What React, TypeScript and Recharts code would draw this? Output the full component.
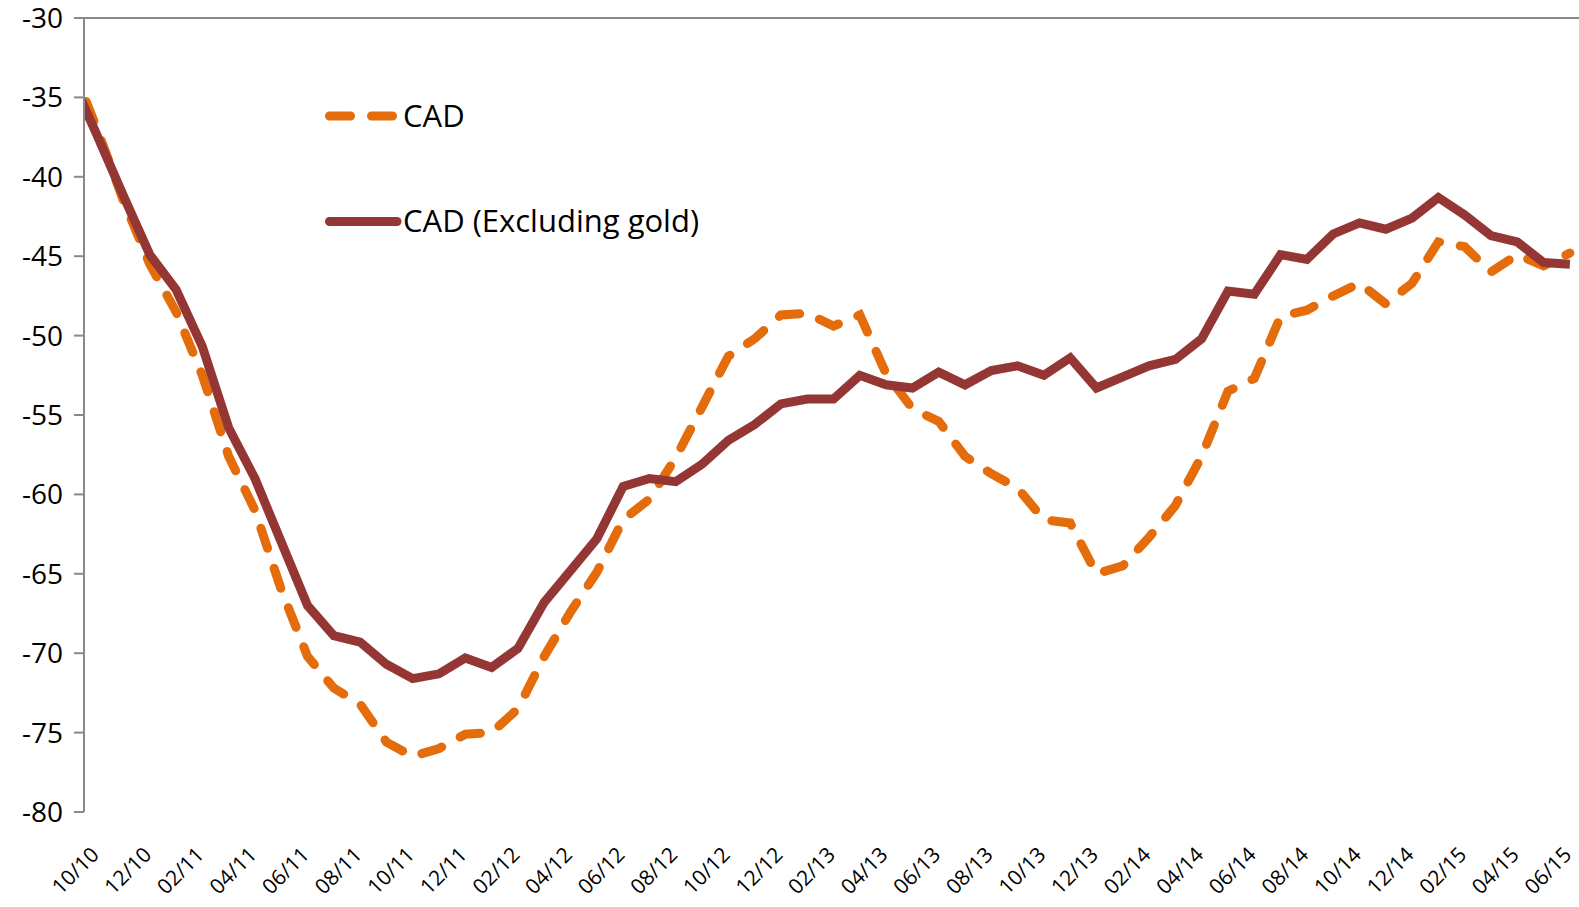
import React from 'react';
import { LineChart, Line, XAxis, YAxis, Legend } from 'recharts';

// month labels; 09/10 sits just left of the axis and gets clipped, like the source chart
const months = [
  '09/10', '10/10', '11/10', '12/10',
  '01/11', '02/11', '03/11', '04/11', '05/11', '06/11', '07/11', '08/11', '09/11', '10/11', '11/11', '12/11',
  '01/12', '02/12', '03/12', '04/12', '05/12', '06/12', '07/12', '08/12', '09/12', '10/12', '11/12', '12/12',
  '01/13', '02/13', '03/13', '04/13', '05/13', '06/13', '07/13', '08/13', '09/13', '10/13', '11/13', '12/13',
  '01/14', '02/14', '03/14', '04/14', '05/14', '06/14', '07/14', '08/14', '09/14', '10/14', '11/14', '12/14',
  '01/15', '02/15', '03/15', '04/15', '05/15', '06/15',
];

const cadValues = [
  -32.8, -37.0, -41.5, -45.5,
  -48.5, -52.5, -57.6, -61.0, -66.0, -70.2, -72.2, -73.2, -75.6, -76.5, -76.0, -75.1,
  -75.0, -73.5, -70.2, -67.4, -64.9, -61.6, -60.3, -57.7, -54.5, -51.3, -50.2, -48.7,
  -48.6, -49.4, -48.7, -52.4, -54.6, -55.4, -57.6, -58.7, -59.6, -61.6, -61.8, -65.0,
  -64.5, -62.7, -60.7, -57.6, -53.5, -52.7, -48.8, -48.4, -47.5, -46.7, -48.0, -46.7,
  -44.1, -44.4, -46.0, -44.9, -45.6, -44.8,
];

const exGoldValues = [
  -33.7, -37.4, -41.2, -44.9,
  -47.1, -50.7, -55.8, -59.0, -63.0, -67.0, -68.9, -69.3, -70.7, -71.6, -71.3, -70.3,
  -70.9, -69.7, -66.8, -64.8, -62.8, -59.5, -59.0, -59.2, -58.1, -56.6, -55.6, -54.3,
  -54.0, -54.0, -52.5, -53.1, -53.3, -52.3, -53.1, -52.2, -51.9, -52.5, -51.4, -53.3,
  -52.6, -51.9, -51.5, -50.2, -47.2, -47.4, -44.9, -45.2, -43.6, -42.9, -43.3, -42.6,
  -41.3, -42.4, -43.7, -44.1, -45.4, -45.5,
];

const yTicks = [-80, -75, -70, -65, -60, -55, -50, -45, -40, -35, -30];

const seriesNames = ['CAD', 'CAD (Excluding gold)'];

const ORANGE = '#E46C0A';
const DARK_RED = '#943634';
const AXIS_GREY = '#898989';
const FONT = '"Open Sans", sans-serif';

// each month sits in the middle of its slot (slot k spans k..k+1)
const data = months.map((m, i) => ({
  month: m,
  pos: i - 0.5,
  cad: cadValues[i],
  exGold: exGoldValues[i],
}));

const labelTicks = data.filter((_, i) => i % 2 === 1).map((d) => d.pos);
const boundaryTicks = labelTicks.map((p) => p - 0.5);

const MonthTick = (props: any) => {
  const { x, y, payload } = props;
  const label = months[Math.round(payload.value + 0.5)];
  return (
    <g transform={`translate(${x + 3},${y + 44})`}>
      <text
        textAnchor="end"
        transform="rotate(-45)"
        fill="#000"
        fontSize={21}
        fontFamily={FONT}
      >
        {label}
      </text>
    </g>
  );
};

const renderLegend = () => (
  <svg width={420} height={160} style={{ overflow: 'visible' }}>
    <line
      x1={9.5} y1={26} x2={73.5} y2={26}
      stroke={ORANGE} strokeWidth={9} strokeDasharray="21 21" strokeLinecap="round"
    />
    <text x={83} y={36.5} fontSize={31} fontFamily={FONT} fill="#000">
      {seriesNames[0]}
    </text>
    <line
      x1={9.5} y1={131.5} x2={77} y2={131.5}
      stroke={DARK_RED} strokeWidth={9} strokeLinecap="round"
    />
    <text x={83} y={142} fontSize={31} fontFamily={FONT} fill="#000">
      {seriesNames[1]}
    </text>
  </svg>
);

export default function App() {
  return (
    <div
      style={{
        position: 'absolute', left: 0, top: 0, width: 1579, height: 907,
        overflow: 'hidden', background: '#fff',
      }}
    >
      <LineChart
        width={1590}
        height={907}
        data={data}
        margin={{ top: 0, right: 7, bottom: 0, left: 0 }}
      >
        <XAxis
          xAxisId="top"
          orientation="top"
          dataKey="pos"
          type="number"
          domain={[0, 57]}
          allowDataOverflow
          ticks={boundaryTicks}
          interval={0}
          tick={false}
          tickSize={-8}
          height={18}
          stroke={AXIS_GREY}
          strokeWidth={2}
        />
        <XAxis
          xAxisId="bottom"
          dataKey="pos"
          type="number"
          domain={[0, 57]}
          allowDataOverflow
          ticks={labelTicks}
          interval={0}
          axisLine={false}
          tickLine={false}
          tickSize={0}
          tickMargin={0}
          height={95}
          tick={<MonthTick />}
        />
        <YAxis
          domain={[-80, -30]}
          ticks={yTicks}
          interval={0}
          width={84}
          tickSize={10}
          tickMargin={11}
          stroke={AXIS_GREY}
          strokeWidth={2}
          tick={{ fill: '#000', fontSize: 28, fontFamily: FONT }}
        />
        <Legend
          layout="horizontal"
          verticalAlign="middle"
          align="center"
          content={renderLegend}
          wrapperStyle={{ left: 320, top: 90, width: 420, height: 160 }}
        />
        <Line
          xAxisId="bottom"
          dataKey="cad"
          name={seriesNames[0]}
          stroke={ORANGE}
          strokeWidth={9}
          strokeDasharray="21 21"
          strokeLinecap="round"
          dot={false}
          activeDot={false}
          isAnimationActive={false}
        />
        <Line
          xAxisId="bottom"
          dataKey="exGold"
          name={seriesNames[1]}
          stroke={DARK_RED}
          strokeWidth={9}
          strokeLinejoin="miter"
          dot={false}
          activeDot={false}
          isAnimationActive={false}
        />
      </LineChart>
    </div>
  );
}
